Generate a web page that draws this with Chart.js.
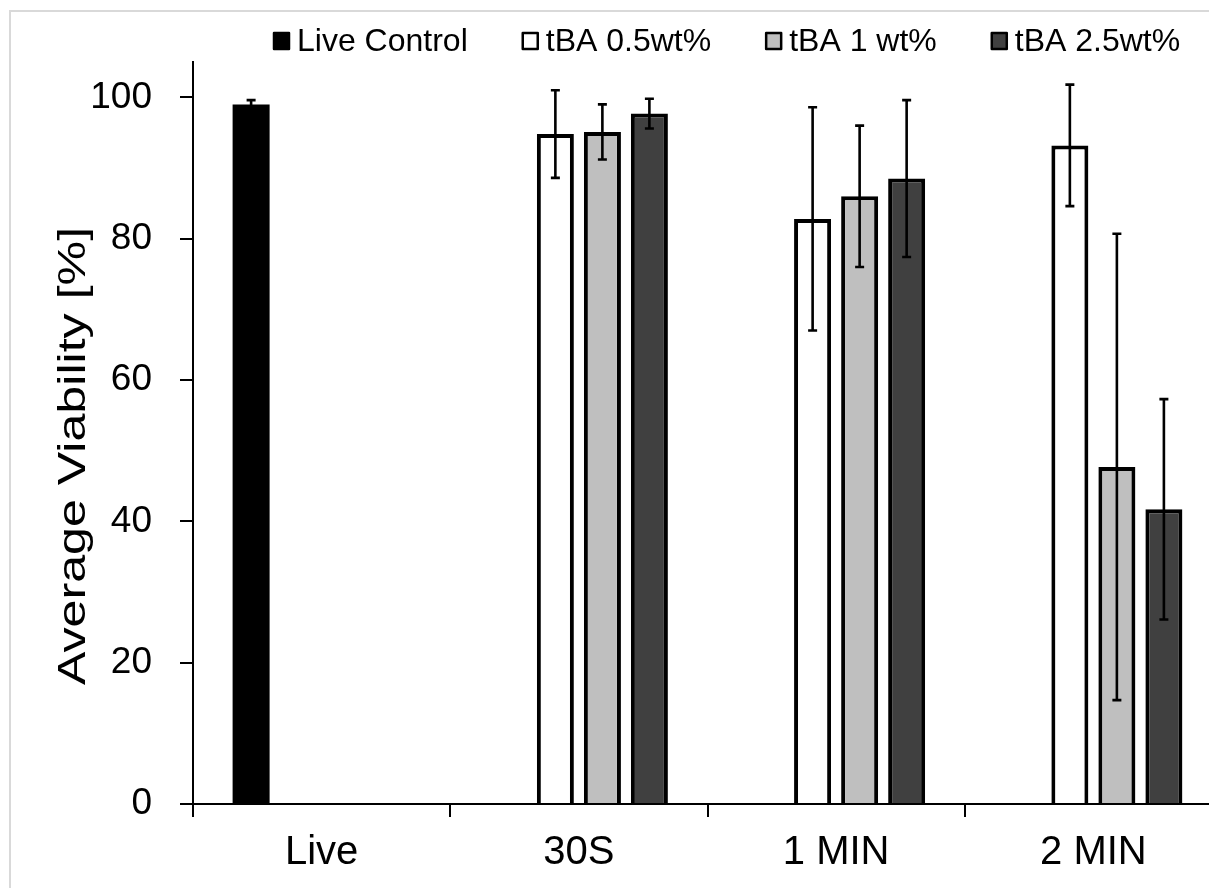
<!DOCTYPE html>
<html>
<head>
<meta charset="utf-8">
<script src="https://cdn.jsdelivr.net/npm/chart.js@4/dist/chart.umd.min.js"></script>
<style>
  html, body { margin: 0; padding: 0; background: #fff; overflow: hidden; }
  canvas { display: block; }
</style>
</head>
<body>
<canvas id="c" width="1240" height="888"></canvas>
<script>
// Treatment groups along the x axis
const categories = ['Live', '30S', '1 MIN', '2 MIN'];
const seriesNames = ['Live Control', 'tBA 0.5wt%', 'tBA 1 wt%', 'tBA 2.5wt%'];

// Mean viability (%) and standard deviation per group
const liveControl    = [99.0, null, null, null];
const liveControlErr = [0.6,  null, null, null];
const tba05          = [null, 94.8, 82.8, 93.2];
const tba05Err       = [null, 6.2,  15.8, 8.6];
const tba1           = [null, 95.1, 86.0, 47.7];
const tba1Err        = [null, 3.9,  10.0, 33.0];
const tba25          = [null, 97.7, 88.5, 41.7];
const tba25Err       = [null, 2.1,  11.1, 15.6];

const yTicks = [0, 20, 40, 60, 80, 100];
const yMax = 105;
const yTitle = 'Average Viability [%]';

const FONT = '"Liberation Sans", Arial, sans-serif';
const fills = ['#000000', '#ffffff', '#bfbfbf', '#404040'];
const values = [liveControl, tba05, tba1, tba25];
const errors = [liveControlErr, tba05Err, tba1Err, tba25Err];

const datasets = seriesNames.map((name, i) => ({
  label: name,
  data: values[i],
  errors: errors[i],
  backgroundColor: fills[i],
  borderColor: '#000000',
  // solid black bar needs no outline
  borderWidth: fills[i] === '#000000' ? 0 : 4,
  barPercentage: 0.787,
  categoryPercentage: 0.731
}));

// Light frame around the figure
const framePlugin = {
  id: 'frame',
  beforeDraw(chart) {
    const ctx = chart.ctx;
    ctx.save();
    ctx.strokeStyle = '#d9d9d9';
    ctx.lineWidth = 2;
    ctx.beginPath();
    ctx.moveTo(10, chart.height);
    ctx.lineTo(10, 11);
    ctx.lineTo(chart.width, 11);
    ctx.stroke();
    ctx.restore();
  }
};

// Standard-deviation whiskers with caps
const errorBarPlugin = {
  id: 'errorBars',
  afterDatasetsDraw(chart) {
    const ctx = chart.ctx;
    const y = chart.scales.y;
    ctx.save();
    ctx.strokeStyle = '#000';
    ctx.lineWidth = 2.6;
    chart.data.datasets.forEach((ds, i) => {
      const meta = chart.getDatasetMeta(i);
      meta.data.forEach((bar, j) => {
        const v = ds.data[j];
        const e = ds.errors[j];
        if (v == null || e == null) return;
        const x = bar.x;
        const yHi = y.getPixelForValue(v + e);
        const yLo = y.getPixelForValue(v - e);
        ctx.beginPath();
        ctx.moveTo(x, yHi); ctx.lineTo(x, yLo);
        ctx.moveTo(x - 4.5, yHi); ctx.lineTo(x + 4.5, yHi);
        ctx.moveTo(x - 4.5, yLo); ctx.lineTo(x + 4.5, yLo);
        ctx.stroke();
      });
    });
    ctx.restore();
  }
};

// Legend row across the top
const legendPlugin = {
  id: 'topLegend',
  afterDraw(chart) {
    const ctx = chart.ctx;
    ctx.save();
    ctx.font = '32px ' + FONT;
    ctx.textBaseline = 'alphabetic';
    ctx.textAlign = 'left';
    let x = 273;
    chart.data.datasets.forEach(ds => {
      ctx.fillStyle = ds.backgroundColor;
      ctx.fillRect(x + 1, 33, 15, 16);
      ctx.strokeStyle = '#000';
      ctx.lineWidth = 2.5;
      ctx.lineJoin = 'round';
      ctx.strokeRect(x + 1, 33, 15, 16);
      ctx.fillStyle = '#000';
      const tx = x + 17 + 7;
      ctx.fillText(ds.label, tx, 51);
      x = tx + ctx.measureText(ds.label).width + 54;
    });
    ctx.restore();
  }
};

// Vertical axis title
const yTitlePlugin = {
  id: 'yTitle',
  afterDraw(chart) {
    const ctx = chart.ctx;
    ctx.save();
    ctx.translate(85, 456);
    ctx.rotate(-Math.PI / 2);
    ctx.scale(1.32, 1);
    ctx.font = '38px ' + FONT;
    ctx.fillStyle = '#000';
    ctx.textAlign = 'center';
    ctx.textBaseline = 'alphabetic';
    ctx.fillText(yTitle, 0, 0);
    ctx.restore();
  }
};

new Chart(document.getElementById('c'), {
  type: 'bar',
  data: { labels: categories, datasets },
  plugins: [framePlugin, errorBarPlugin, legendPlugin, yTitlePlugin],
  options: {
    responsive: false,
    animation: false,
    devicePixelRatio: 1,
    layout: { padding: { top: 62, right: 18, left: 0, bottom: 0 } },
    plugins: { legend: { display: false }, tooltip: { enabled: false } },
    scales: {
      x: {
        type: 'category',
        offset: true,
        afterFit(s) { s.height = 84; },
        grid: { offset: true, drawOnChartArea: false, drawTicks: true, tickLength: 13, lineWidth: 2, color: '#000' },
        border: { display: true, color: '#000', width: 2 },
        ticks: { color: '#000', font: { family: FONT, size: 40 }, padding: 12, maxRotation: 0 }
      },
      y: {
        min: 0,
        max: yMax,
        afterFit(s) { s.width = 193; },
        afterBuildTicks(s) { s.ticks = yTicks.map(v => ({ value: v })); },
        grid: { drawOnChartArea: false, drawTicks: true, tickLength: 13, lineWidth: 2, color: '#000' },
        border: { display: true, color: '#000', width: 2 },
        ticks: { color: '#000', font: { family: FONT, size: 37 }, padding: 28 }
      }
    }
  }
});
</script>
</body>
</html>
